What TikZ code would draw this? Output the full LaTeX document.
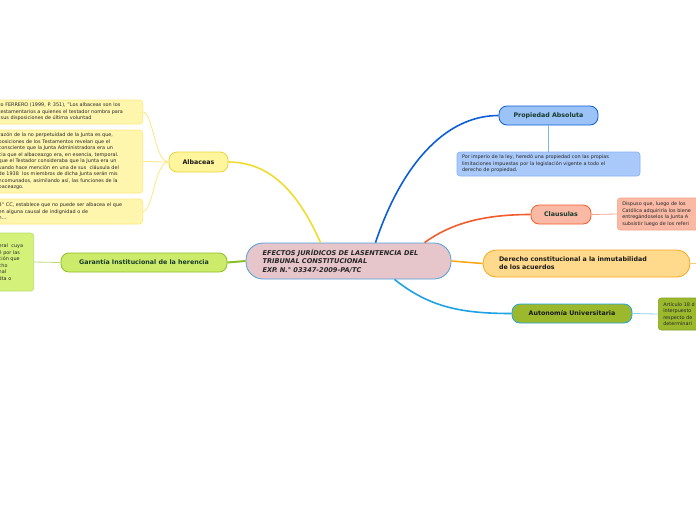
\documentclass[tikz,border=0pt]{standalone}
\usepackage{fontspec}
\setmainfont{DejaVu Sans}
\usepackage{xcolor}
\definecolor{MainFill}{HTML}{E6C5CB}
\definecolor{MainLine}{HTML}{4F9FD8}
\definecolor{AlbFill}{HTML}{FFF59D}
\definecolor{AlbLine}{HTML}{EAD43C}
\definecolor{AlbNote}{HTML}{FFF6AE}
\definecolor{AlbSoft}{HTML}{FFE680}
\definecolor{GarFill}{HTML}{CDEB6A}
\definecolor{GarLine}{HTML}{8CBF26}
\definecolor{GarNote}{HTML}{D4F27A}
\definecolor{GarSoft}{HTML}{B8DC70}
\definecolor{PropFill}{HTML}{9CC3F7}
\definecolor{PropLine}{HTML}{0B5ED7}
\definecolor{PropNote}{HTML}{A8C9FA}
\definecolor{PropSoft}{HTML}{86B2EE}
\definecolor{ClauFill}{HTML}{F9B9A5}
\definecolor{ClauLine}{HTML}{F25C2A}
\definecolor{ClauSoft}{HTML}{F4A48C}
\definecolor{DerFill}{HTML}{FFD98C}
\definecolor{DerLine}{HTML}{F7A81B}
\definecolor{AutFill}{HTML}{9CB92E}
\definecolor{AutLine}{HTML}{1FA2E2}
\definecolor{AutSoft}{HTML}{8CD0F0}
\definecolor{AutNoteLine}{HTML}{7DA01E}
\definecolor{LabelText}{HTML}{163A2C}

\tikzset{
  topic/.style={draw, rounded corners=8pt, line width=0.8pt, text=LabelText,
    font=\bfseries\fontsize{6.3}{8}\selectfont, inner sep=0pt},
  note/.style={draw, rounded corners=3pt, line width=0.6pt, text=black!85,
    font=\fontsize{4.9}{6.5}\selectfont, align=left, inner xsep=5pt, inner ysep=0pt},
  branch/.style={line width=1.6pt},
  twig/.style={line width=0.8pt}
}

\begin{document}
\begin{tikzpicture}[x=1pt,y=-1pt]
\useasboundingbox (0,0) rectangle (696,520);
\clip (0,0) rectangle (696,520);

% central topic
\node[topic, draw=MainLine, fill=MainFill, rounded corners=17pt, text=black!85,
  font=\bfseries\itshape\fontsize{6.6}{8.5}\selectfont, align=left,
  text width=172pt, minimum width=205pt, minimum height=36pt] (main) at (348.5,261)
  {EFECTOS JURÍDICOS DE LASENTENCIA DEL\\TRIBUNAL CONSTITUCIONAL\\EXP. N.° 03347-2009-PA/TC};

% main topics
\node[topic, draw=AlbLine, fill=AlbFill, text=black!90, minimum width=59pt, minimum height=20pt] (albaceas) at (198.5,162) {Albaceas};
\node[topic, draw=GarLine, fill=GarFill, minimum width=166pt, minimum height=19pt] (garantia) at (144,262.5) {Garantía Institucional de la herencia};
\node[topic, draw=PropLine, fill=PropFill, minimum width=99pt, minimum height=19pt] (propiedad) at (548.5,115.5) {Propiedad Absoluta};
\node[topic, draw=ClauLine, fill=ClauFill, minimum width=60pt, minimum height=19pt] (clausulas) at (561,214.5) {Clausulas};
\node[topic, draw=DerLine, fill=DerFill, text=black!90, rounded corners=13pt, align=left,
  text width=175pt, minimum width=207pt, minimum height=27pt] (derecho) at (586.5,263.5)
  {Derecho constitucional a la inmutabilidad\\de los acuerdos};
\node[topic, draw=AutLine, fill=AutFill, text=black!90, minimum width=120pt, minimum height=19pt] (autonomia) at (572,313.5) {Autonomía Universitaria};

% notes
\node[note, draw=AlbSoft, fill=AlbNote, anchor=east, text width=139pt, minimum height=24pt] (albnoteA) at (143,112)
  {to FERRERO (1999, P. 351), "Los albaceas son los\\testamentarios a quienes el testador nombra para\\\hspace*{2pt}sus disposiciones de última voluntad};
\node[note, draw=AlbSoft, fill=AlbNote, anchor=east, text width=139pt, minimum height=63pt] (albnoteB) at (143,161.5)
  {razón de la no perpetuidad de la Junta es que,\\posiciones de los Testamentos revelan que el\\consciente que la Junta Administradora era un\\cia que el albaceazgo era, en esencia, temporal.\\que el Testador consideraba que la Junta era un\\uando hace mención en una de sus \ cláusula del\\de 1938 \ los miembros de dicha Junta serán mis\\ncomunados, asimilando así, las funciones de la\\baceazgo.};
\node[note, draw=AlbSoft, fill=AlbNote, anchor=east, text width=139pt, minimum height=25pt] (albnoteC) at (143,211.5)
  {3° CC, establece que no puede ser albacea el que\\en alguna causal de indignidad o de\\n...};
\node[note, draw=GarSoft, fill=GarNote, anchor=east, text width=30pt, minimum height=58pt] (garnote) at (34,262)
  {eral \ cuya\\é por las\\ción que\\cho\\nal\\dta o};
\node[note, draw=PropSoft, fill=PropNote, text width=173pt, minimum width=183pt, minimum height=24pt] (propnote) at (548.5,164)
  {Por imperio de la ley, heredó una propiedad con las propias\\limitaciones impuestas por la legislación vigente a todo el\\derecho de propiedad.};
\node[note, draw=ClauSoft, fill=ClauFill, anchor=west, text width=150pt, minimum height=32pt] (claunote) at (617,214)
  {Dispuso que, luego de los\\Católica adquiriría los biene\\entregándoselos la Junta A\\subsistir luego de los referi};
\node[note, draw=AutNoteLine, fill=AutFill, anchor=west, text width=150pt, minimum height=32pt] (autnote) at (658,314)
  {Artículo 18 d\\interpuesto\\respecto de\\determinari};
\coordinate (dernote) at (720,263);

% branches from the central topic
\draw[branch, AlbLine!80!yellow] ([xshift=-28pt]main.north) .. controls +(-20,-45) and +(45,0) .. (albaceas.east);
\draw[branch, PropLine] ([xshift=27pt]main.north) .. controls +(25,-75) and +(-55,0) .. (propiedad.west);
\draw[branch, ClauLine] ([xshift=76pt]main.north) .. controls +(25,-18) and +(-50,0) .. (clausulas.west);
\draw[branch, DerLine] (main.east) -- (derecho.west);
\draw[branch, AutLine] ([xshift=46pt]main.south) .. controls +(35,28) and +(-50,0) .. (autonomia.west);
\draw[branch, GarLine, line width=2pt] (main.west) -- (garantia.east);

% twigs to the notes
\foreach \n in {albnoteA,albnoteB,albnoteC}
  \draw[twig, AlbSoft] (albaceas.west) .. controls +(-14,0) and +(10,0) .. (\n.east);
\draw[twig, GarSoft] (garantia.west) -- (garnote.east);
\draw[twig, PropSoft] (propiedad.south) -- (propnote.north);
\draw[twig, ClauSoft] (clausulas.east) -- (claunote.west);
\draw[twig, DerLine!60] (derecho.east) -- (dernote);
\draw[twig, AutSoft] (autonomia.east) -- (autnote.west);
\end{tikzpicture}
\end{document}
